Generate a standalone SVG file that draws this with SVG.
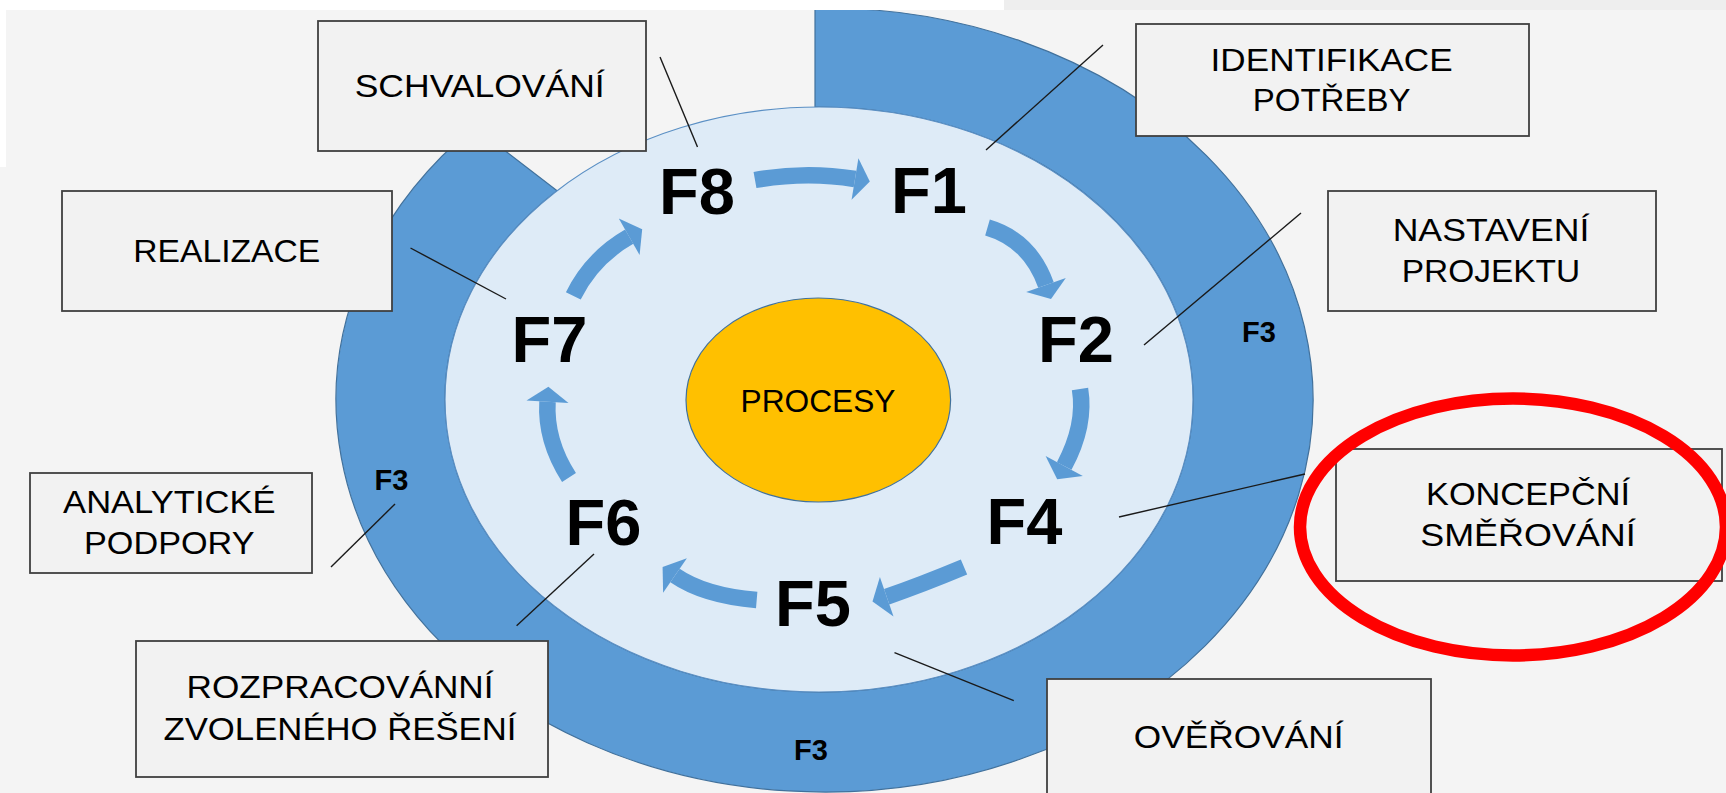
<svg xmlns="http://www.w3.org/2000/svg" width="1726" height="793" viewBox="0 0 1726 793">
<style>
.box{fill:#f2f2f2;stroke:#404040;stroke-width:1.8}
.lbl{font-family:"Liberation Sans",Arial,sans-serif;font-size:31px;fill:#000;text-anchor:middle}
.f{font-family:"Liberation Sans",Arial,sans-serif;font-weight:bold;font-size:65px;fill:#000;text-anchor:middle}
.f3{font-family:"Liberation Sans",Arial,sans-serif;font-weight:bold;font-size:29px;fill:#000;text-anchor:middle}
.ln{stroke:#1a1a1a;stroke-width:1.4;fill:none}
.shaft{fill:none;stroke:#5b9bd5;stroke-width:16.5}
.head{fill:#5b9bd5}
</style>
<rect x="0" y="0" width="1726" height="793" fill="#f4f4f4"/>
<g id="ring">
<path d="M815,8.1 A488.5,392 0 1,1 474,127 L557.1,190.7 A374,292.5 0 1,0 815,107 Z" fill="#5b9bd5" stroke="#41719c" stroke-width="1.2"/>
</g>
<g id="disk">
<ellipse cx="819" cy="399.5" rx="374" ry="292.5" fill="#deebf7" stroke="#5a8fc4" stroke-width="1.2"/>
</g>
<rect x="0" y="0" width="1004" height="10" fill="#ffffff"/>
<rect x="1004" y="0" width="722" height="10" fill="#eeeeee"/>
<rect x="0" y="0" width="6" height="167" fill="#ffffff"/>
<g id="procesy">
<ellipse cx="818.3" cy="400" rx="132.3" ry="102" fill="#ffc000" stroke="#41719c" stroke-width="1.2"/>
<text class="lbl" x="818" y="411.7" textLength="155" lengthAdjust="spacingAndGlyphs">PROCESY</text>
</g>
<g id="arrows">
<path class="shaft" d="M755,180 Q806,171 855,179"/>
<polygon class="head" points="858.4,158.3 869.8,181.4 851.6,199.7"/>
<path class="shaft" d="M987.5,227.5 Q1030,240 1046,285"/>
<polygon class="head" points="1065.8,278 1051,299.1 1026.2,292"/>
<path class="shaft" d="M1080,389 Q1086,425 1064.2,466"/>
<polygon class="head" points="1082.8,475.9 1057.2,479.3 1045.6,456.1"/>
<path class="shaft" d="M964,567 Q921.3,584.8 886.7,596.7"/>
<polygon class="head" points="879.9,576.9 872.5,601.6 893.5,616.5"/>
<path class="shaft" d="M756.7,600 Q704.2,595.6 675,575.5"/>
<polygon class="head" points="663.1,592.8 662.6,567 686.9,558.2"/>
<path class="shaft" d="M569,477.5 Q545.2,440.4 547.5,401.7"/>
<polygon class="head" points="526.5,400.5 548.4,386.7 568.5,402.9"/>
<path class="shaft" d="M573.3,295.8 Q592,258 629.2,236.7"/>
<polygon class="head" points="618.8,218.5 642.2,229.2 639.6,254.9"/>
</g>
<g id="phases">
<text class="f" x="697" y="214">F8</text>
<text class="f" x="929" y="213">F1</text>
<text class="f" x="1076" y="362">F2</text>
<text class="f" x="1024.5" y="544">F4</text>
<text class="f" x="813" y="626">F5</text>
<text class="f" x="603.5" y="545">F6</text>
<text class="f" x="549.5" y="362">F7</text>
<text class="f3" x="1259" y="342">F3</text>
<text class="f3" x="391.5" y="490">F3</text>
<text class="f3" x="811" y="760">F3</text>
</g>
<g id="connectors">
<line class="ln" x1="660" y1="57" x2="697.5" y2="147"/>
<line class="ln" x1="1103" y1="45" x2="986" y2="150"/>
<line class="ln" x1="1301" y1="213" x2="1144" y2="345"/>
<line class="ln" x1="410.5" y1="248" x2="506" y2="299"/>
<line class="ln" x1="395" y1="504" x2="331" y2="567"/>
<line class="ln" x1="594" y1="554" x2="516.6" y2="625.7"/>
<line class="ln" x1="1305" y1="474" x2="1119" y2="517"/>
<line class="ln" x1="894.5" y1="652.7" x2="1013.8" y2="700.7"/>
</g>
<g id="schvalovani">
<rect class="box" x="318" y="21" width="328" height="130"/>
<text class="lbl" x="479.7" y="96.7" textLength="250" lengthAdjust="spacingAndGlyphs">SCHVALOVÁNÍ</text>
</g>
<g id="identifikace">
<rect class="box" x="1136" y="24" width="393" height="112"/>
<text class="lbl" x="1331.6" y="70.7" textLength="242" lengthAdjust="spacingAndGlyphs">IDENTIFIKACE</text>
<text class="lbl" x="1331.6" y="111" textLength="157.7" lengthAdjust="spacingAndGlyphs">POTŘEBY</text>
</g>
<g id="nastaveni">
<rect class="box" x="1328" y="191" width="328" height="120"/>
<text class="lbl" x="1491" y="240.7" textLength="196.7" lengthAdjust="spacingAndGlyphs">NASTAVENÍ</text>
<text class="lbl" x="1491" y="281.7" textLength="178.4" lengthAdjust="spacingAndGlyphs">PROJEKTU</text>
</g>
<g id="realizace">
<rect class="box" x="62" y="191" width="330" height="120"/>
<text class="lbl" x="226.8" y="261.7" textLength="187" lengthAdjust="spacingAndGlyphs">REALIZACE</text>
</g>
<g id="analyticke">
<rect class="box" x="30" y="473" width="282" height="100"/>
<text class="lbl" x="169.3" y="513.3" textLength="212.4" lengthAdjust="spacingAndGlyphs">ANALYTICKÉ</text>
<text class="lbl" x="169.3" y="554" textLength="170.5" lengthAdjust="spacingAndGlyphs">PODPORY</text>
</g>
<g id="rozpracovani">
<rect class="box" x="136" y="641" width="412" height="136"/>
<text class="lbl" x="340" y="698.3" textLength="307" lengthAdjust="spacingAndGlyphs">ROZPRACOVÁNNÍ</text>
<text class="lbl" x="340" y="740" textLength="353" lengthAdjust="spacingAndGlyphs">ZVOLENÉHO ŘEŠENÍ</text>
</g>
<g id="koncepcni">
<rect class="box" x="1336" y="449" width="386" height="132"/>
<text class="lbl" x="1528" y="505" textLength="204" lengthAdjust="spacingAndGlyphs">KONCEPČNÍ</text>
<text class="lbl" x="1528" y="545.7" textLength="215.6" lengthAdjust="spacingAndGlyphs">SMĚŘOVÁNÍ</text>
</g>
<g id="overovani">
<rect class="box" x="1047" y="679" width="384" height="130"/>
<text class="lbl" x="1238.6" y="747.7" textLength="209.7" lengthAdjust="spacingAndGlyphs">OVĚŘOVÁNÍ</text>
</g>
<g id="highlight">
<ellipse cx="1513" cy="527" rx="213" ry="128.5" fill="none" stroke="#ff0000" stroke-width="12.5"/>
</g>
</svg>
